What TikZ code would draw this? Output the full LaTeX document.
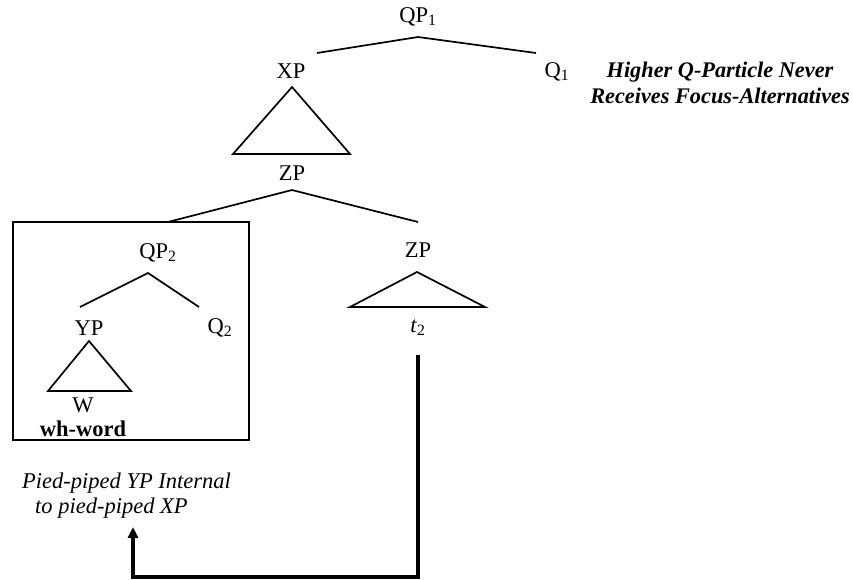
\documentclass[tikz,border=0pt]{standalone}
\usepackage{fontspec}
\setmainfont{Liberation Serif}
\usetikzlibrary{arrows.meta}
\begin{document}
\begin{tikzpicture}[x=1pt,y=-1pt,
  lab/.style={inner sep=0pt,font=\fontsize{22.5}{24}\selectfont},
  itl/.style={inner sep=0pt,font=\fontsize{22.5}{24}\selectfont\itshape,anchor=west},
  br/.style={line width=1.7pt},
  tri/.style={line width=1.7pt,line join=miter},
  mv/.style={line width=4pt,-{Triangle[length=11pt,width=10pt]}}]
\useasboundingbox (0,0) rectangle (853,579);
% top
\node[lab] (qp1) at (418,17) {QP\textsubscript{1}};
\node[lab] (xp) at (291,71) {XP};
\node[lab] (q1) at (557,72) {Q\textsubscript{1}};
\coordinate (qp1b) at (418,37);
\coordinate (qp1l) at (317,53);
\coordinate (qp1r) at (536,53);
\draw[br] (qp1l) -- (qp1b) -- (qp1r);
\node[inner sep=0pt,align=center,font=\fontsize{22.3}{26}\selectfont\bfseries\itshape] (note) at (720,83) {Higher Q-Particle Never\\Receives Focus-Alternatives};
% XP triangle
\coordinate (xpa) at (292,87);
\coordinate (xpl) at (233,154);
\coordinate (xpr) at (350,154);
\draw[tri] (xpa) -- (xpl) -- (xpr) -- cycle;
\node[lab] (zp) at (292,173) {ZP};
\coordinate (zpb) at (292,190);
\coordinate (zpl) at (168,222);
\coordinate (zpr) at (418,222);
\draw[br] (zpl) -- (zpb) -- (zpr);
% box
\draw[br] (13,222) rectangle (249,440);
\node[lab] (qp2) at (158,253) {QP\textsubscript{2}};
\coordinate (qp2b) at (148,273);
\coordinate (qp2l) at (80,307);
\coordinate (qp2r) at (199,307);
\draw[br] (qp2l) -- (qp2b) -- (qp2r);
\node[lab] (yp) at (89,328) {YP};
\node[lab] (q2) at (220,328) {Q\textsubscript{2}};
\coordinate (ypa) at (89,341);
\coordinate (ypl) at (48,391);
\coordinate (ypr) at (131,391);
\draw[tri] (ypa) -- (ypl) -- (ypr) -- cycle;
\node[lab,anchor=base] (w) at (83,412) {W};
\node[lab,anchor=base,font=\fontsize{22.5}{24}\selectfont\bfseries] (wh) at (83,436) {wh-word};
% right ZP
\node[lab] (zp2) at (418,250) {ZP};
\coordinate (zpa) at (417,272);
\coordinate (zp2l) at (350,307);
\coordinate (zp2r) at (485,307);
\draw[tri] (zpa) -- (zp2l) -- (zp2r) -- cycle;
\node[lab] (t2) at (418,328) {\textit{t}\textsubscript{2}};
% caption
\node[itl] (cap1) at (22,483) {Pied-piped YP Internal};
\node[itl] (cap2) at (35,508) {to pied-piped XP};
% movement arrow
\coordinate (mvs) at (418,355);
\coordinate (mvc) at (418,577);
\coordinate (mvd) at (133,577);
\coordinate (mve) at (133,527);
\draw[mv] (mvs) -- (mvc) -- (mvd) -- (mve);
\end{tikzpicture}
\end{document}
